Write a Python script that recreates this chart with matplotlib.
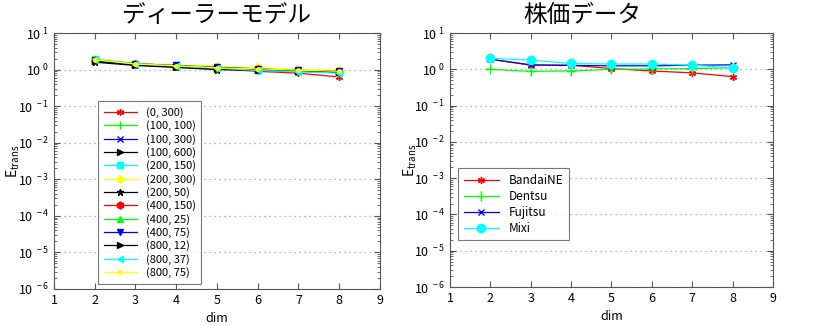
import matplotlib
matplotlib.use("Agg")
import matplotlib.pyplot as plt
from matplotlib.ticker import FixedLocator, FixedFormatter, LogLocator, NullFormatter

plt.rcParams['font.family'] = ['Noto Sans CJK JP', 'DejaVu Sans']
plt.rcParams['mathtext.fontset'] = 'custom'
plt.rcParams['mathtext.rm'] = 'Noto Sans CJK JP'
plt.rcParams['mathtext.it'] = 'Noto Sans CJK JP'

dims = [2, 3, 4, 5, 6, 7, 8]

# Dealer model runs: (N, M) parameter pairs
dealer_labels = ['(0, 300)', '(100, 100)', '(100, 300)', '(100, 600)', '(200, 150)',
                 '(200, 300)', '(200, 50)', '(400, 150)', '(400, 25)', '(400, 75)',
                 '(800, 12)', '(800, 37)', '(800, 75)']
dealer_0_300 = [1.9, 1.4, 1.2, 1.05, 0.9, 0.8, 0.63]
dealer_100_100 = [1.8, 1.4, 1.25, 1.1, 1.0, 0.92, 0.85]
dealer_100_300 = [1.9, 1.45, 1.3, 1.15, 1.05, 0.95, 0.88]
dealer_100_600 = [1.7, 1.35, 1.2, 1.05, 1.0, 0.93, 0.87]
dealer_200_150 = [2.0, 1.45, 1.3, 1.12, 1.0, 0.9, 0.82]
dealer_200_300 = [2.0, 1.5, 1.35, 1.25, 1.15, 1.02, 0.95]
dealer_200_50 = [1.6, 1.3, 1.15, 1.0, 0.97, 0.9, 0.85]
dealer_400_150 = [1.85, 1.4, 1.25, 1.1, 1.02, 0.93, 0.85]
dealer_400_25 = [1.8, 1.4, 1.25, 1.1, 1.03, 0.95, 0.88]
dealer_400_75 = [1.85, 1.45, 1.3, 1.15, 1.05, 0.95, 0.9]
dealer_800_12 = [1.75, 1.35, 1.2, 1.08, 1.0, 0.92, 0.86]
dealer_800_37 = [1.9, 1.45, 1.25, 1.1, 0.95, 0.88, 0.8]
dealer_800_75 = [1.85, 1.42, 1.28, 1.12, 1.05, 0.97, 0.9]

# Stock price data
stock_labels = ['BandaiNE', 'Dentsu', 'Fujitsu', 'Mixi']
bandai = [1.9, 1.3, 1.3, 1.05, 0.9, 0.8, 0.63]
dentsu = [1.0, 0.88, 0.9, 1.0, 1.03, 1.05, 1.1]
fujitsu = [1.9, 1.33, 1.28, 1.25, 1.25, 1.3, 1.33]
mixi = [2.0, 1.8, 1.45, 1.4, 1.4, 1.3, 1.1]

dealer_series = [dealer_0_300, dealer_100_100, dealer_100_300, dealer_100_600,
                 dealer_200_150, dealer_200_300, dealer_200_50, dealer_400_150,
                 dealer_400_25, dealer_400_75, dealer_800_12, dealer_800_37,
                 dealer_800_75]
dealer_styles = [
    ('#ff0000', (6, 2, 0), 5),
    ('#00ff00', '+', 6),
    ('#0000ff', 'x', 4),
    ('#000000', '>', 5),
    ('#00ffff', 's', 4),
    ('#ffff00', 'D', 4),
    ('#000000', '*', 5),
    ('#ff0000', 'h', 5),
    ('#00ff00', '^', 5),
    ('#0000ff', 'v', 5),
    ('#000000', '>', 5),
    ('#00ffff', '<', 5),
    ('#ffff00', '.', 5),
]

stock_series = [bandai, dentsu, fujitsu, mixi]
stock_styles = [
    ('#ff0000', (6, 2, 0), 5),
    ('#00ff00', '+', 7),
    ('#0000ff', 'x', 4),
    ('#00ffff', 'o', 6),
]

fig = plt.figure(figsize=(8.14, 3.26), dpi=100)
ax1 = fig.add_axes([0.0663, 0.1135, 0.4005, 0.785])
ax2 = fig.add_axes([0.5528, 0.1196, 0.3968, 0.779])

ytick_vals = [10.0 ** k for k in range(-6, 2)]
ytick_text = [r'$10^{\ %d}$' % k for k in range(-6, 2)]


def style_axes(ax, label_x):
    ax.set_yscale('log')
    ax.set_xlim(1, 9)
    ax.set_ylim(1e-6, 1e1)
    ax.xaxis.set_major_locator(FixedLocator(range(1, 10)))
    ax.yaxis.set_major_locator(FixedLocator(ytick_vals))
    ax.yaxis.set_major_formatter(FixedFormatter(ytick_text))
    ax.yaxis.set_minor_locator(LogLocator(base=10, subs=range(2, 10), numticks=20))
    ax.yaxis.set_minor_formatter(NullFormatter())
    ax.tick_params(which='both', direction='in', top=True, right=True,
                   labelsize=9, color='#555555')
    ax.tick_params(which='major', length=4)
    ax.tick_params(which='minor', length=2)
    ax.grid(axis='y', which='major', linestyle=(0, (1, 3)), color='#9999dd', linewidth=0.9)
    for sp in ax.spines.values():
        sp.set_color('#555555')
    ax.set_xlabel('dim', fontsize=9)
    ax.set_ylabel(r'E$_{\mathregular{trans}}$', fontsize=10)
    ax.yaxis.set_label_coords(label_x, 0.5)


for lbl, vals, (c, m, ms) in zip(dealer_labels, dealer_series, dealer_styles):
    ax1.plot(dims, vals, color=c, marker=m, markersize=ms, linewidth=0.9,
             markeredgecolor=c, markerfacecolor=c, label=lbl)
style_axes(ax1, -0.097)
ax1.set_title('ディーラーモデル', fontsize=17, pad=8)
leg1 = ax1.legend(loc='upper left', bbox_to_anchor=(0.118, 0.755), fontsize=8,
                  frameon=True, fancybox=False, edgecolor='#555555',
                  handlelength=3.0, labelspacing=0.22, borderpad=0.5)
leg1.get_frame().set_linewidth(0.8)

for lbl, vals, (c, m, ms) in zip(stock_labels, stock_series, stock_styles):
    ax2.plot(dims, vals, color=c, marker=m, markersize=ms, linewidth=0.9,
             markeredgecolor=c, markerfacecolor=c, label=lbl)
style_axes(ax2, -0.095)
ax2.set_title('株価データ', fontsize=17, pad=8, x=0.41)
leg2 = ax2.legend(loc='upper left', bbox_to_anchor=(0.008, 0.49), fontsize=8.5,
                  frameon=True, fancybox=False, edgecolor='#555555',
                  handlelength=3.0, labelspacing=0.25, borderpad=0.45)
leg2.get_frame().set_linewidth(0.8)

fig.savefig('out.png', dpi=100)
